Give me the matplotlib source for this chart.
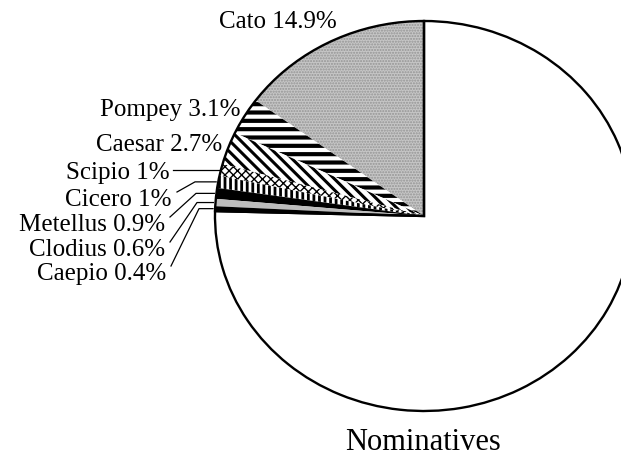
import numpy as np
import matplotlib
matplotlib.use("Agg")
import matplotlib.pyplot as plt

# valeurs (%)
names = ["Cato", "Pompey", "Caesar", "Scipio", "Cicero", "Metellus", "Clodius", "Caepio", "Other"]
shares = [14.9, 3.1, 2.7, 1, 1, 0.9, 0.6, 0.4, 75.4]
share_text = ["14.9%", "3.1%", "2.7%", "1%", "1%", "0.9%", "0.6%", "0.4%", ""]

# remplissage de chaque part : (couleur, hachure, couleur hachure, épaisseur hachure)
styles = [
    ("#c6c6c6", "......", "#949494", 1.0),
    ("white", "--", "black", 3.0),
    ("white", "\\\\\\", "black", 2.2),
    ("white", "xxxx", "black", 1.0),
    ("white", "|||", "black", 2.0),
    ("black", None, "black", 1.0),
    ("#bdbdbd", None, "#bdbdbd", 1.0),
    ("black", None, "black", 1.0),
    ("white", None, "white", 1.0),
]

# ancre (bord droit, centre vertical) de chaque étiquette, en pixels
label_pos = [(337, 22), (240, 110), (222, 145), (170, 173), (172, 200),
             (165, 225), (165, 250), (166, 274)]
# coude des traits de rappel (x en pixels), None = trait horizontal
elbow_x = [None, None, None, None, 195, 196, 197, 199]

W, H = 621, 456
CX, CY, RX, RY = 424, 217, 209, 195

plt.rcParams["font.family"] = ["Liberation Serif", "DejaVu Serif"]
plt.rcParams["hatch.linewidth"] = 2.0

fig = plt.figure(figsize=(W / 100, H / 100), dpi=100)
ax = fig.add_axes([(CX - RX) / W, (H - CY - RY) / H, 2 * RX / W, 2 * RY / H])


def px(x, y):
    """ pixels -> coordonnées de l'axe """
    return (x - CX) / RX, (CY - y) / RY


wedges, _ = ax.pie(shares, startangle=90, counterclock=True,
                   wedgeprops=dict(linewidth=0))
for w, (fc, hatch, hc, hlw) in zip(wedges, styles):
    w.set_facecolor(fc)
    w.set_edgecolor(hc)
    w.set_linewidth(0)
    if hatch:
        w.set_hatch(hatch)
        if hasattr(w, "set_hatch_linewidth"):
            w.set_hatch_linewidth(hlw)
    w.set_clip_on(False)

# contour : ellipse + deux rayons
small = sum(shares[:-1])
outline, _ = ax.pie([small, shares[-1]], startangle=90, counterclock=True,
                    wedgeprops=dict(fill=False, edgecolor="black", linewidth=1.7))
for w in outline:
    w.set_clip_on(False)

# étiquettes et traits de rappel
for i, (x, y) in enumerate(label_pos):
    tx, ty = px(x, y)
    ax.text(tx, ty, f"{names[i]} {share_text[i]}", ha="right", va="center",
            fontsize=18)
    if i < 3:
        continue
    w = wedges[i]
    mid = np.deg2rad((w.theta1 + w.theta2) / 2)
    ex, ey = np.cos(mid) * 1.01, np.sin(mid)
    ey_px = CY - ey * RY
    if elbow_x[i] is None:
        xs = [px(x + 3, ey_px)[0], ex]
        ys = [ey, ey]
    else:
        sx, sy = px(x + 5, y - 7)
        bx, by = px(elbow_x[i], ey_px)
        xs = [sx, bx, ex]
        ys = [sy, by, ey]
    ax.plot(xs, ys, color="black", linewidth=0.9, clip_on=False)

ax.set_xlim(-1, 1)
ax.set_ylim(-1, 1)
ax.set_aspect("auto")
ax.set_axis_off()

fig.text(423 / W, 1 - 443 / H, "Nominatives", ha="center", va="center", fontsize=22)

fig.savefig("out.png", dpi=100)
